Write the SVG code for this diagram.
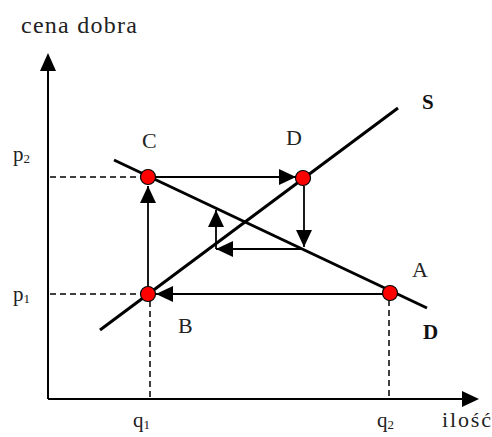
<svg xmlns="http://www.w3.org/2000/svg" width="492" height="437" viewBox="0 0 492 437" font-family="'Liberation Serif', 'DejaVu Serif', serif">
<style>
.lbl{font-size:22px;fill:#222;}
.pq{font-size:21px;fill:#222;}
.bold{font-size:21px;font-weight:bold;fill:#111;}
.sub{font-size:13px;}
.axis{stroke:#000;stroke-width:2;fill:none;}
.curve{stroke:#000;stroke-width:3;fill:none;}
.arr{stroke:#000;stroke-width:1.8;fill:none;marker-end:url(#ah);}
.dash{stroke:#000;stroke-width:1.5;stroke-dasharray:6,4;fill:none;}
.pt{fill:#ff0000;stroke:#000;stroke-width:1.2;}
</style>
<defs>
<marker id="ah" markerUnits="userSpaceOnUse" markerWidth="18" markerHeight="16" refX="17" refY="8" orient="auto">
<path d="M0,0 L17,8 L0,16 Z" fill="#000"/>
</marker>
</defs>
<g id="axes">
<line class="axis" x1="48" y1="68" x2="48" y2="399"/>
<line class="axis" x1="48" y1="399" x2="464" y2="399"/>
<path d="M48,53 L56,71 L40,71 Z" fill="#000"/>
<path d="M479,399 L462,391 L462,407 Z" fill="#000"/>
<text class="lbl" x="21" y="33" style="font-size:24px" textLength="116">cena dobra</text>
<text class="lbl" x="442" y="427" textLength="49">ilość</text>
</g>
<g id="guides">
<line class="dash" x1="50" y1="177" x2="140" y2="177"/>
<line class="dash" x1="50" y1="294" x2="140" y2="294"/>
<line class="dash" x1="150" y1="301" x2="150" y2="398"/>
<line class="dash" x1="389" y1="300" x2="389" y2="398"/>
<text class="pq" x="13" y="161">p<tspan class="sub" dy="2">2</tspan></text>
<text class="pq" x="13" y="301">p<tspan class="sub" dy="2">1</tspan></text>
<text class="pq" x="133" y="427">q<tspan class="sub" dy="2">1</tspan></text>
<text class="pq" x="377" y="427">q<tspan class="sub" dy="2">2</tspan></text>
</g>
<g id="supply">
<line class="curve" x1="100" y1="330" x2="398" y2="108"/>
<text class="bold" x="422" y="109">S</text>
</g>
<g id="demand">
<line class="curve" x1="114" y1="160" x2="427" y2="308"/>
<text class="bold" x="423" y="339">D</text>
</g>
<g id="connectors">
<line class="arr" x1="155" y1="177" x2="296" y2="177"/>
<line class="arr" x1="148" y1="290" x2="148" y2="186"/>
<line class="arr" x1="383" y1="294" x2="156" y2="294"/>
<line class="arr" x1="304" y1="186" x2="304" y2="247"/>
<line class="arr" x1="302" y1="249" x2="216" y2="249"/>
<line class="arr" x1="216" y1="249" x2="216" y2="210"/>
</g>
<g id="pointC"><circle class="pt" cx="148" cy="177" r="7.5"/><text class="lbl" x="142" y="148">C</text></g>
<g id="pointD"><circle class="pt" cx="303" cy="178" r="7.5"/><text class="lbl" x="286" y="145">D</text></g>
<g id="pointB"><circle class="pt" cx="148" cy="294" r="7.5"/><text class="lbl" x="178" y="333">B</text></g>
<g id="pointA"><circle class="pt" cx="390" cy="293" r="7.5"/><text class="lbl" x="412" y="277">A</text></g>
</svg>
